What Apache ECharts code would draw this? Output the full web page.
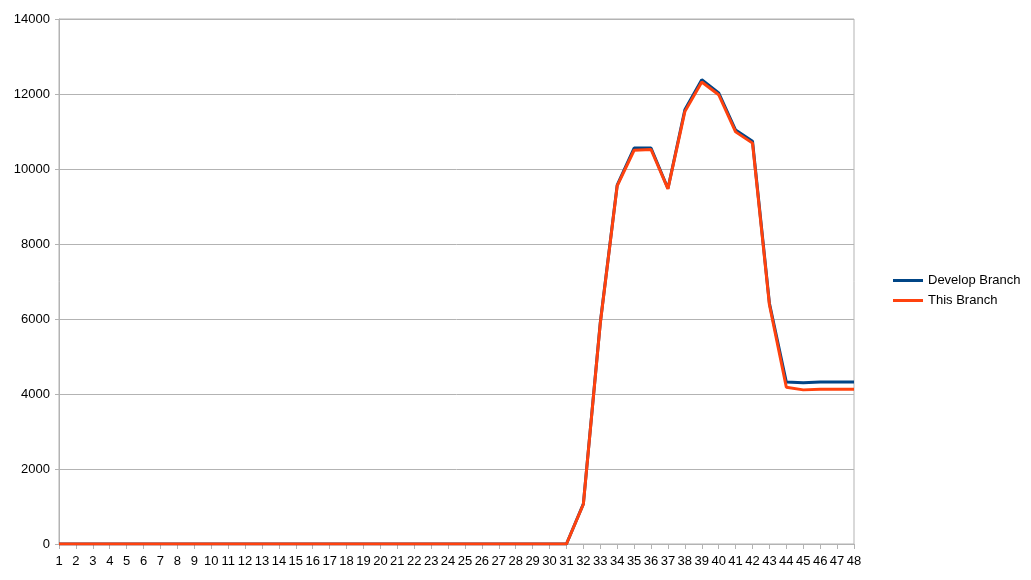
<!DOCTYPE html>
<html><head><meta charset="utf-8">
<script src="https://cdn.jsdelivr.net/npm/echarts@6/dist/echarts.min.js"></script>
<style>html,body{margin:0;padding:0;background:#fff}#c{width:1031px;height:580px}</style>
</head><body><div id="c"></div>
<script>
const categories = Array.from({length: 48}, (_, i) => String(i + 1));
const developBranch = [0,0,0,0,0,0,0,0,0,0,0,0,0,0,0,0,0,0,0,0,0,0,0,0,0,0,0,0,0,0,0,
  1070, 5900, 9570, 10560, 10560, 9480, 11580, 12380, 12030, 11040, 10740, 6420, 4320, 4300, 4320, 4320, 4320];
const thisBranch = [0,0,0,0,0,0,0,0,0,0,0,0,0,0,0,0,0,0,0,0,0,0,0,0,0,0,0,0,0,0,0,
  1060, 5880, 9550, 10500, 10520, 9470, 11530, 12320, 11980, 10990, 10690, 6380, 4180, 4110, 4125, 4125, 4125];
const yTicks = {min: 0, max: 14000, interval: 2000};

const chart = echarts.init(document.getElementById('c'), null, {renderer: 'canvas'});
const font = 'Liberation Sans';
chart.setOption({
  animation: false,
  backgroundColor: '#fff',
  grid: {left: 59, right: 177, top: 19, bottom: 36, show: true, borderColor: '#b3b3b3', borderWidth: 1, backgroundColor: 'transparent'},
  legend: {
    orient: 'vertical', left: 888, top: 269, itemGap: 7,
    icon: 'rect', itemWidth: 30, itemHeight: 3,
    textStyle: {fontFamily: font, fontSize: 13, color: '#000'},
    data: ['Develop Branch', 'This Branch']
  },
  xAxis: {
    type: 'category', data: categories, boundaryGap: false,
    axisLine: {lineStyle: {color: '#b3b3b3'}},
    axisTick: {show: true, length: 5, lineStyle: {color: '#b3b3b3'}, interval: 0},
    axisLabel: {interval: 0, fontFamily: font, fontSize: 13, color: '#000', margin: 11},
    splitLine: {show: false}
  },
  yAxis: {
    type: 'value', min: yTicks.min, max: yTicks.max, interval: yTicks.interval,
    axisLine: {show: true, lineStyle: {color: '#b3b3b3'}},
    axisTick: {show: true, length: 4, lineStyle: {color: '#b3b3b3'}},
    axisLabel: {fontFamily: font, fontSize: 13, color: '#000', margin: 9, formatter: v => String(v)},
    splitLine: {lineStyle: {color: '#b3b3b3'}}
  },
  series: [
    {name: 'Develop Branch', type: 'line', data: developBranch, showSymbol: false, symbol: 'none',
     lineStyle: {width: 3, color: '#004586'}, itemStyle: {color: '#004586'}},
    {name: 'This Branch', type: 'line', data: thisBranch, showSymbol: false, symbol: 'none',
     lineStyle: {width: 3, color: '#ff420e'}, itemStyle: {color: '#ff420e'}}
  ]
});
</script></body></html>
